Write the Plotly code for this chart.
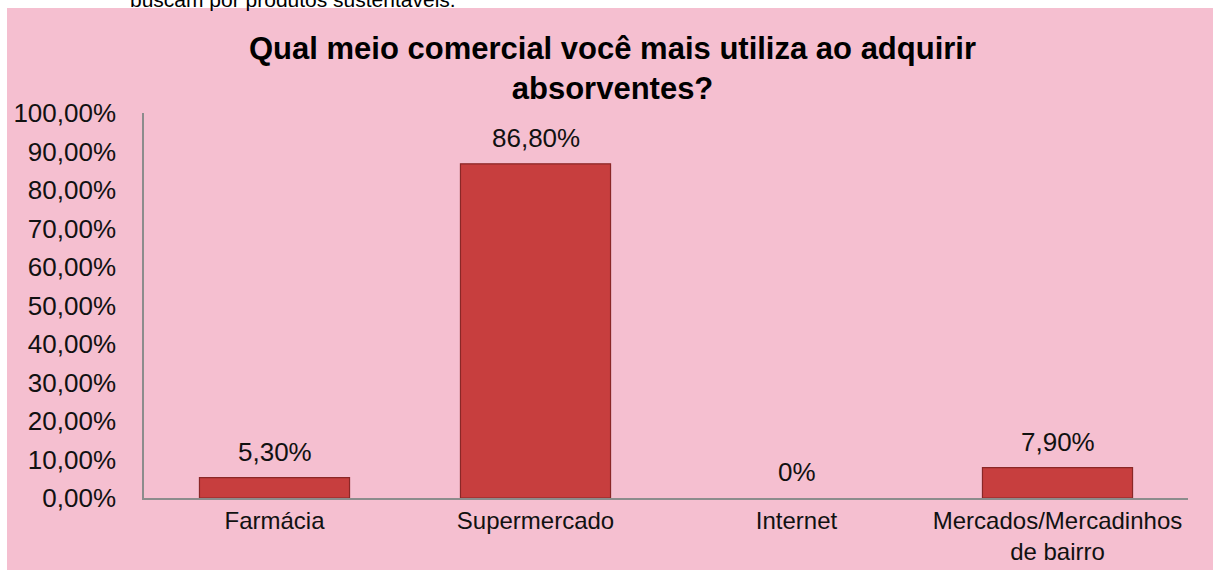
import plotly.graph_objects as go

categories = ["Farmácia", "Supermercado", "Internet", "Mercados/Mercadinhos<br>de bairro"]
values = [5.3, 86.8, 0.0, 7.9]
value_labels = ["5,30%", "86,80%", "0%", "7,90%"]
tick_vals = [0, 10, 20, 30, 40, 50, 60, 70, 80, 90, 100]
tick_text = ["0,00%", "10,00%", "20,00%", "30,00%", "40,00%", "50,00%",
             "60,00%", "70,00%", "80,00%", "90,00%", "100,00%"]
title_text = "<b>Qual meio comercial você mais utiliza ao adquirir<br>absorventes?</b>"
page_text = "buscam por produtos sustentáveis."

W, H = 1213, 570
L, R, T, B = 144, 25, 113, 72
pw, ph = W - L - R, H - T - B

def px_x(p):
    return (p - L) / pw

def px_y(p):
    return (H - B - p) / ph

PINK = "#F5BFD0"
FONT = "Liberation Sans, Arial, sans-serif"

fig = go.Figure()
fig.add_trace(go.Bar(
    x=categories, y=values, width=0.575,
    marker=dict(color="#C73E3E",
                line=dict(color="#8A2727", width=[1.2 if v > 0 else 0 for v in values])),
    hoverinfo="skip",
))

for c, v, t in zip(categories, values, value_labels):
    fig.add_annotation(x=c, y=v, text=t, showarrow=False, yanchor="bottom",
                       yshift=9, font=dict(family=FONT, size=26, color="#111111"))

fig.add_annotation(xref="paper", yref="paper", x=px_x(612), y=px_y(68), text=title_text,
                   showarrow=False, xanchor="center", yanchor="middle",
                   font=dict(family=FONT, size=31, color="black"))

# white page strip above/left of the chart box
fig.add_shape(type="rect", xref="paper", yref="paper", layer="below",
              x0=px_x(-5), x1=px_x(W + 5), y0=px_y(8), y1=px_y(-5),
              fillcolor="white", line=dict(width=0))
fig.add_shape(type="rect", xref="paper", yref="paper", layer="below",
              x0=px_x(-5), x1=px_x(7), y0=px_y(H + 5), y1=px_y(-5),
              fillcolor="white", line=dict(width=0))
fig.add_annotation(xref="paper", yref="paper", x=px_x(128), y=px_y(13),
                   text=page_text, showarrow=False, xanchor="left", yanchor="bottom",
                   font=dict(family=FONT, size=21, color="black"))

fig.update_layout(
    width=W, height=H,
    margin=dict(l=L, r=R, t=T, b=B, pad=0, autoexpand=False),
    paper_bgcolor=PINK, plot_bgcolor=PINK,
    bargap=0.425,
    showlegend=False,
    font=dict(family=FONT, color="black"),
    xaxis=dict(showgrid=False, showline=True, linecolor="#8C8C8C", linewidth=1.5,
               ticks="", tickfont=dict(family=FONT, size=24, color="#111111"),
               automargin=False, fixedrange=True),
    yaxis=dict(range=[0, 100], showgrid=False, showline=True, linecolor="#8C8C8C",
               linewidth=1.5, tickvals=tick_vals, ticktext=tick_text, ticks="",
               ticklen=0, ticklabelstandoff=21, automargin=False,
               tickfont=dict(family=FONT, size=26, color="#111111"),
               zeroline=False, fixedrange=True),
)

fig.write_html("out.html")
